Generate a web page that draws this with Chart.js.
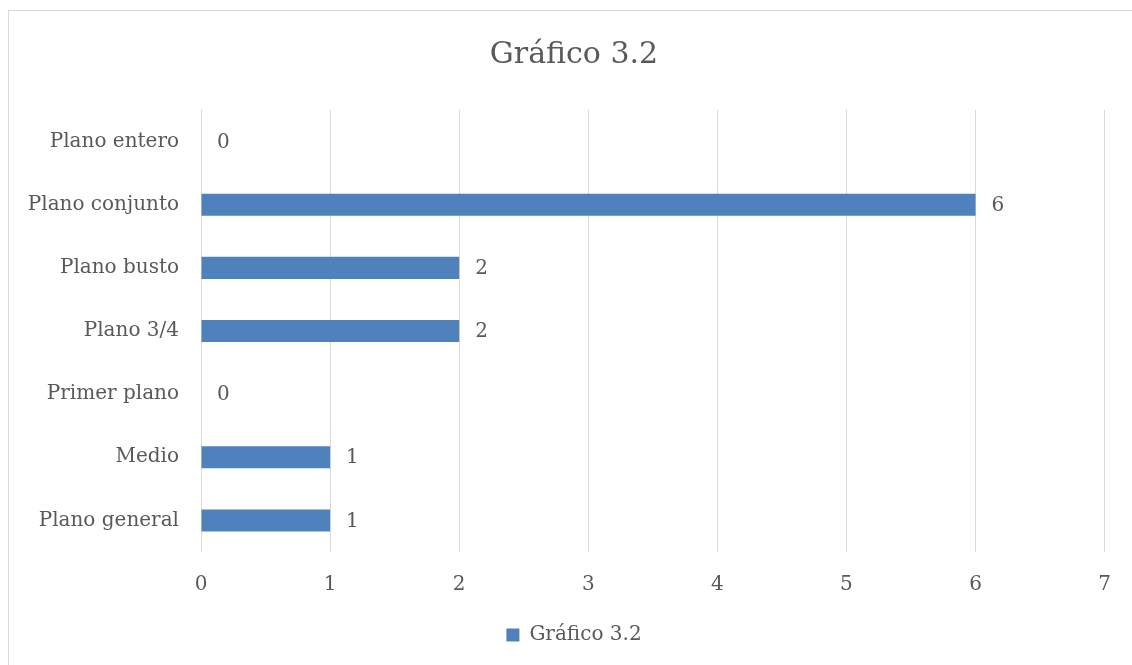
<!DOCTYPE html>
<html>
<head>
<meta charset="utf-8">
<script src="https://cdn.jsdelivr.net/npm/chart.js@4/dist/chart.umd.min.js"></script>
<style>
  html, body { margin: 0; padding: 0; background: #fff; }
  #wrap { position: absolute; left: 0; top: 0; width: 1132px; height: 665px; }
</style>
</head>
<body>
<div id="wrap"><canvas id="myChart" width="1132" height="665"></canvas></div>
<script>
// chart data
var categories = ["Plano entero", "Plano conjunto", "Plano busto", "Plano 3/4",
  "Primer plano", "Medio", "Plano general"];
var values = [0, 6, 2, 2, 0, 1, 1];
var xTicks = [0, 1, 2, 3, 4, 5, 6, 7];
var seriesName = "Gráfico 3.2";

var textColor = "#595959";
var fontFamily = "'DejaVu Serif', serif";

// light frame around the chart, like the office export
var framePlugin = {
  id: 'frame',
  beforeDraw: function(chart) {
    var ctx = chart.ctx;
    ctx.save();
    ctx.strokeStyle = "#d9d9d9";
    ctx.lineWidth = 1;
    ctx.strokeRect(8.5, 10.5, 1200, 1000);
    ctx.restore();
  }
};

// title and legend are centred on the frame, not on the canvas
var centreBlocks = {
  id: 'centreBlocks',
  afterLayout: function(chart) {
    if (chart.titleBlock) chart.titleBlock.left = 41;
    if (chart.legend) chart.legend.left = 41;
  }
};

// value labels at the end of each bar
var valueLabels = {
  id: 'valueLabels',
  afterDatasetsDraw: function(chart) {
    var ctx = chart.ctx;
    var meta = chart.getDatasetMeta(0);
    ctx.save();
    ctx.font = "20px " + fontFamily;
    ctx.fillStyle = textColor;
    ctx.textAlign = "left";
    ctx.textBaseline = "middle";
    meta.data.forEach(function(bar, i) {
      ctx.fillText(String(values[i]), bar.x + 16, bar.y + 1);
    });
    ctx.restore();
  }
};

var ctx = document.getElementById('myChart').getContext('2d');

var myChart = new Chart(ctx, {
  type: 'bar',
  data: {
    labels: categories,
    datasets: [{
      label: seriesName,
      data: values,
      backgroundColor: "#4f81bd",
      borderWidth: 0,
      barPercentage: 0.35,
      categoryPercentage: 1
    }]
  },
  options: {
    indexAxis: 'y',
    responsive: false,
    animation: false,
    layout: { padding: { top: 10, right: 25, bottom: 10, left: 0 } },
    scales: {
      x: {
        min: 0,
        max: 7,
        afterBuildTicks: function(scale) {
          scale.ticks = xTicks.map(function(v) { return { value: v }; });
        },
        afterFit: function(scale) { scale.height = 63; },
        grid: { color: "#d9d9d9", drawTicks: false },
        border: { display: false },
        ticks: { color: textColor, padding: 21, font: { family: fontFamily, size: 20 } }
      },
      y: {
        afterFit: function(scale) { scale.width = 201; },
        grid: { display: false, drawTicks: false },
        border: { display: false },
        ticks: { color: textColor, padding: 22, font: { family: fontFamily, size: 20 } }
      }
    },
    plugins: {
      title: {
        display: true,
        text: seriesName,
        color: textColor,
        font: { family: fontFamily, size: 30, weight: 'normal' },
        padding: { top: 27, bottom: 37 }
      },
      legend: {
        position: 'bottom',
        labels: {
          color: textColor,
          boxWidth: 13,
          boxHeight: 13,
          padding: 10,
          font: { family: fontFamily, size: 20 }
        }
      },
      tooltip: { enabled: false }
    }
  },
  plugins: [framePlugin, centreBlocks, valueLabels]
});
</script>
</body>
</html>
